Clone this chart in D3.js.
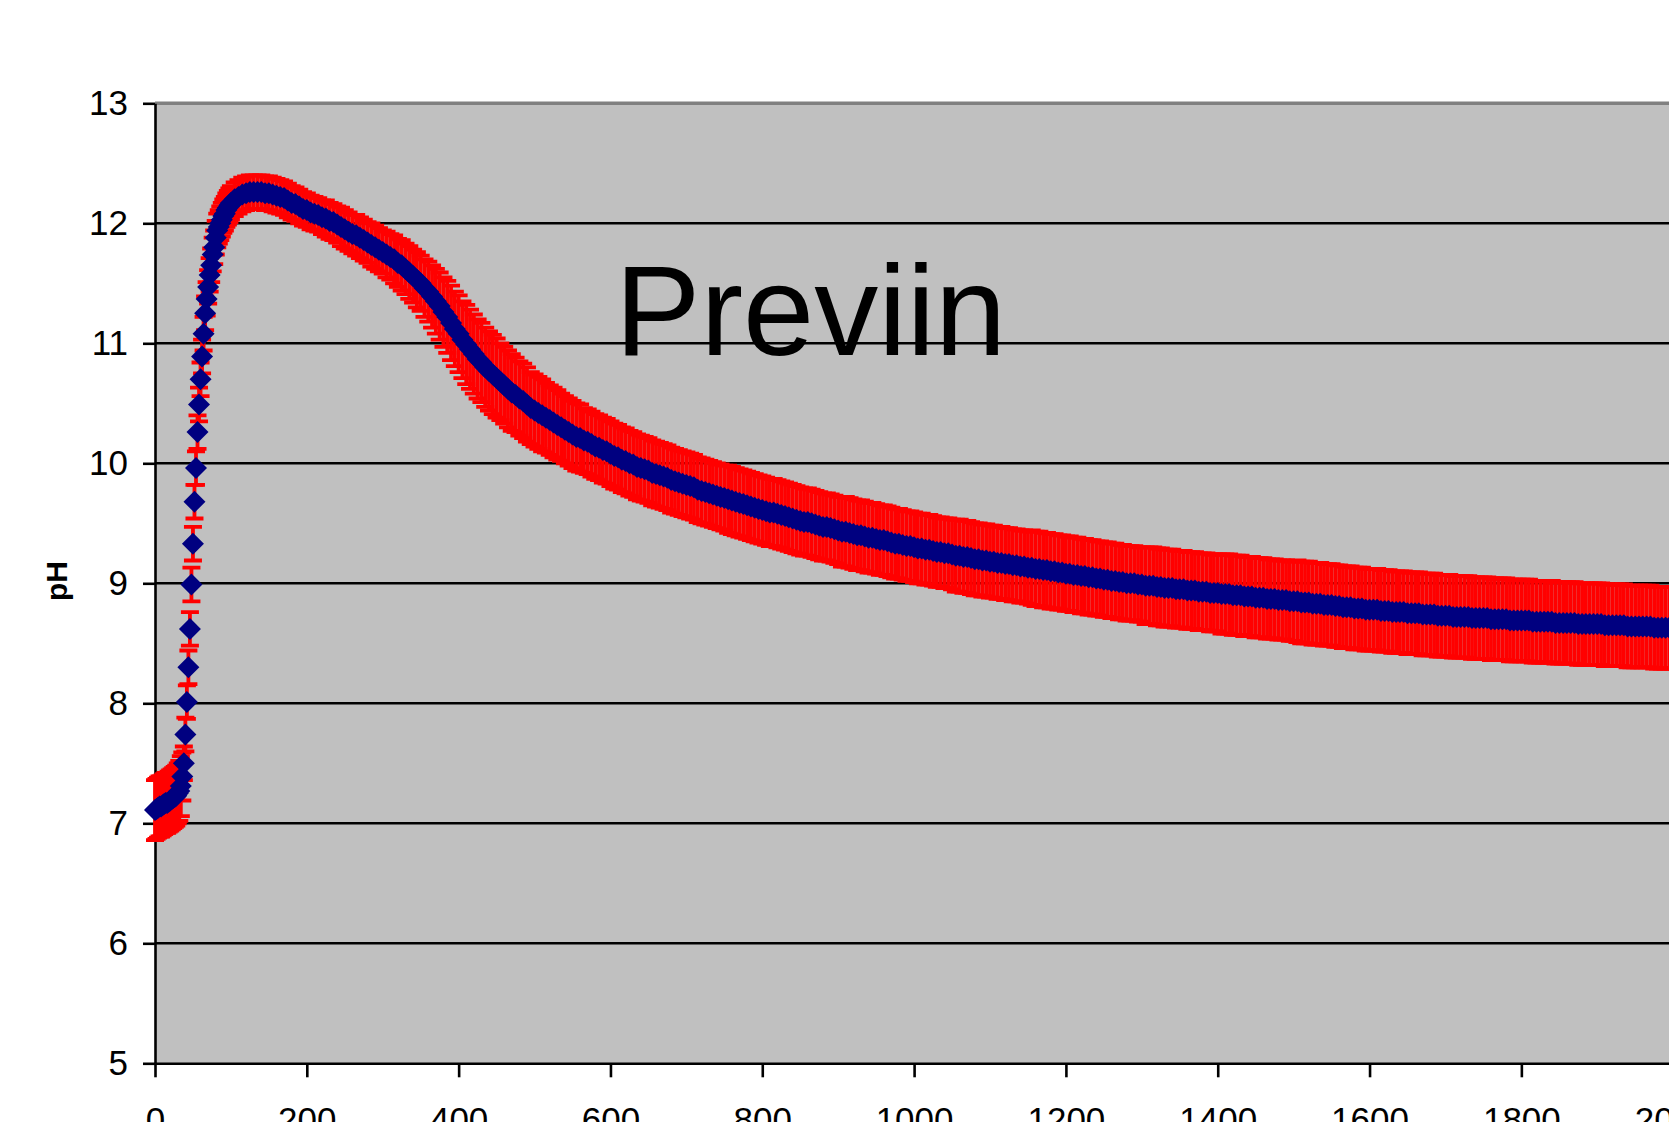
<!DOCTYPE html>
<html>
<head>
<meta charset="utf-8">
<script src="https://cdn.jsdelivr.net/npm/d3@7"></script>
<style>
  html, body { margin: 0; padding: 0; background: #fff; overflow: hidden; }
  svg { display: block; font-family: "Liberation Sans", Arial, sans-serif; }
</style>
</head>
<body>
<svg id="chart" width="1669" height="1122"></svg>
<script>
// Labels and ticks
const chartTitle = "Previin";
const yAxisLabel = "pH";
const xTickValues = [0, 200, 400, 600, 800, 1000, 1200, 1400, 1600, 1800, 2000, 2200];
const yTickValues = [5, 6, 7, 8, 9, 10, 11, 12, 13];

// Sample times (s)
const sampleTimes = [
  0, 2, 4, 6, 8, 10, 12, 14, 16, 18, 20, 22, 24, 26, 28, 30, 32, 34, 36, 38,
  40, 42, 44, 46, 48, 50, 52, 54, 56, 58, 60, 62, 64, 66, 68, 70, 72, 74, 76, 78,
  80, 82, 84, 86, 88, 90, 92, 94, 96, 98, 100,
  105, 110, 115, 120, 125, 130, 135, 140, 145, 150, 155, 160, 165, 170, 175, 180, 185, 190, 195, 200,
  205, 210, 215, 220, 225, 230, 235, 240, 245, 250, 255, 260, 265, 270, 275, 280, 285, 290, 295, 300,
  305, 310, 315, 320, 325, 330, 335, 340, 345, 350, 355, 360, 365, 370, 375, 380, 385, 390, 395, 400,
  405, 410, 415, 420, 425, 430, 435, 440, 445, 450, 455, 460, 465, 470, 475, 480, 485, 490, 495, 500,
  505, 510, 515, 520, 525, 530, 535, 540, 545, 550, 555, 560, 565, 570, 575, 580, 585, 590, 595, 600,
  605, 610, 615, 620, 625, 630, 635, 640, 645, 650, 655, 660, 665, 670, 675, 680, 685, 690, 695, 700,
  705, 710, 715, 720, 725, 730, 735, 740, 745, 750, 755, 760, 765, 770, 775, 780, 785, 790, 795, 800,
  805, 810, 815, 820, 825, 830, 835, 840, 845, 850, 855, 860, 865, 870, 875, 880, 885, 890, 895, 900,
  905, 910, 915, 920, 925, 930, 935, 940, 945, 950, 955, 960, 965, 970, 975, 980, 985, 990, 995, 1000,
  1005, 1010, 1015, 1020, 1025, 1030, 1035, 1040, 1045, 1050, 1055, 1060, 1065, 1070, 1075, 1080, 1085, 1090, 1095, 1100,
  1105, 1110, 1115, 1120, 1125, 1130, 1135, 1140, 1145, 1150, 1155, 1160, 1165, 1170, 1175, 1180, 1185, 1190, 1195, 1200,
  1205, 1210, 1215, 1220, 1225, 1230, 1235, 1240, 1245, 1250, 1255, 1260, 1265, 1270, 1275, 1280, 1285, 1290, 1295, 1300,
  1305, 1310, 1315, 1320, 1325, 1330, 1335, 1340, 1345, 1350, 1355, 1360, 1365, 1370, 1375, 1380, 1385, 1390, 1395, 1400,
  1405, 1410, 1415, 1420, 1425, 1430, 1435, 1440, 1445, 1450, 1455, 1460, 1465, 1470, 1475, 1480, 1485, 1490, 1495, 1500,
  1505, 1510, 1515, 1520, 1525, 1530, 1535, 1540, 1545, 1550, 1555, 1560, 1565, 1570, 1575, 1580, 1585, 1590, 1595, 1600,
  1605, 1610, 1615, 1620, 1625, 1630, 1635, 1640, 1645, 1650, 1655, 1660, 1665, 1670, 1675, 1680, 1685, 1690, 1695, 1700,
  1705, 1710, 1715, 1720, 1725, 1730, 1735, 1740, 1745, 1750, 1755, 1760, 1765, 1770, 1775, 1780, 1785, 1790, 1795, 1800,
  1805, 1810, 1815, 1820, 1825, 1830, 1835, 1840, 1845, 1850, 1855, 1860, 1865, 1870, 1875, 1880, 1885, 1890, 1895, 1900,
  1905, 1910, 1915, 1920, 1925, 1930, 1935, 1940, 1945, 1950, 1955, 1960, 1965, 1970, 1975, 1980, 1985, 1990, 1995, 2000,
  2005, 2010
];

// Mean pH at each sample
const phMean = [
  7.11, 7.12, 7.13, 7.14, 7.14, 7.15, 7.16, 7.17, 7.17, 7.18, 7.19, 7.20, 7.21, 7.22, 7.23, 7.25, 7.27, 7.31, 7.39, 7.50,
  7.74, 8.01, 8.30, 8.62, 8.99, 9.33, 9.68, 9.96, 10.26, 10.49, 10.70, 10.89, 11.08, 11.25, 11.37, 11.47, 11.57, 11.65, 11.74, 11.80,
  11.88, 11.94, 11.97, 12.00, 12.03, 12.06, 12.08, 12.11, 12.13, 12.15, 12.17,
  12.20, 12.22, 12.24, 12.25, 12.26, 12.26, 12.26, 12.26, 12.25, 12.25, 12.24, 12.23, 12.22, 12.21, 12.19, 12.17, 12.16, 12.14, 12.12, 12.11,
  12.09, 12.08, 12.07, 12.05, 12.04, 12.02, 12.01, 11.99, 11.97, 11.95, 11.93, 11.91, 11.90, 11.88, 11.86, 11.84, 11.82, 11.80, 11.78, 11.76,
  11.74, 11.72, 11.70, 11.67, 11.65, 11.62, 11.59, 11.56, 11.53, 11.50, 11.46, 11.43, 11.39, 11.35, 11.31, 11.26, 11.22, 11.17, 11.12, 11.08,
  11.03, 10.99, 10.95, 10.91, 10.87, 10.84, 10.80, 10.77, 10.74, 10.71, 10.68, 10.65, 10.62, 10.59, 10.57, 10.54, 10.52, 10.49, 10.46, 10.44,
  10.42, 10.40, 10.38, 10.36, 10.34, 10.32, 10.30, 10.28, 10.26, 10.24, 10.22, 10.21, 10.19, 10.18, 10.16, 10.14, 10.13, 10.11, 10.10, 10.08,
  10.06, 10.05, 10.03, 10.02, 10.00, 9.99, 9.97, 9.96, 9.95, 9.94, 9.92, 9.91, 9.90, 9.89, 9.88, 9.86, 9.85, 9.84, 9.83, 9.82,
  9.81, 9.80, 9.78, 9.77, 9.76, 9.75, 9.74, 9.73, 9.72, 9.71, 9.70, 9.69, 9.68, 9.67, 9.66, 9.65, 9.64, 9.63, 9.62, 9.61,
  9.60, 9.59, 9.59, 9.58, 9.57, 9.56, 9.55, 9.54, 9.53, 9.52, 9.51, 9.51, 9.50, 9.49, 9.48, 9.47, 9.47, 9.46, 9.45, 9.44,
  9.43, 9.43, 9.42, 9.41, 9.40, 9.40, 9.39, 9.38, 9.38, 9.37, 9.36, 9.36, 9.35, 9.34, 9.33, 9.33, 9.32, 9.31, 9.31, 9.30,
  9.29, 9.29, 9.28, 9.28, 9.27, 9.26, 9.26, 9.25, 9.25, 9.24, 9.23, 9.23, 9.22, 9.22, 9.21, 9.20, 9.20, 9.19, 9.19, 9.18,
  9.18, 9.17, 9.17, 9.16, 9.16, 9.15, 9.15, 9.14, 9.14, 9.13, 9.13, 9.12, 9.12, 9.11, 9.11, 9.10, 9.10, 9.09, 9.09, 9.08,
  9.08, 9.07, 9.07, 9.06, 9.06, 9.05, 9.05, 9.04, 9.04, 9.03, 9.03, 9.02, 9.02, 9.01, 9.01, 9.00, 9.00, 9.00, 8.99, 8.99,
  8.98, 8.98, 8.98, 8.97, 8.97, 8.96, 8.96, 8.96, 8.95, 8.95, 8.95, 8.94, 8.94, 8.94, 8.93, 8.93, 8.93, 8.92, 8.92, 8.92,
  8.91, 8.91, 8.91, 8.90, 8.90, 8.90, 8.89, 8.89, 8.89, 8.88, 8.88, 8.88, 8.87, 8.87, 8.87, 8.86, 8.86, 8.86, 8.85, 8.85,
  8.85, 8.84, 8.84, 8.84, 8.83, 8.83, 8.83, 8.82, 8.82, 8.82, 8.81, 8.81, 8.80, 8.80, 8.80, 8.79, 8.79, 8.79, 8.78, 8.78,
  8.78, 8.78, 8.77, 8.77, 8.77, 8.76, 8.76, 8.76, 8.76, 8.75, 8.75, 8.75, 8.75, 8.74, 8.74, 8.74, 8.74, 8.73, 8.73, 8.73,
  8.73, 8.72, 8.72, 8.72, 8.72, 8.72, 8.71, 8.71, 8.71, 8.71, 8.71, 8.70, 8.70, 8.70, 8.70, 8.70, 8.69, 8.69, 8.69, 8.69,
  8.69, 8.69, 8.68, 8.68, 8.68, 8.68, 8.68, 8.68, 8.67, 8.67, 8.67, 8.67, 8.67, 8.67, 8.66, 8.66, 8.66, 8.66, 8.66, 8.66,
  8.66, 8.65, 8.65, 8.65, 8.65, 8.65, 8.65, 8.64, 8.64, 8.64, 8.64, 8.64, 8.64, 8.64, 8.63, 8.63, 8.63, 8.63, 8.63, 8.63,
  8.63, 8.62
];

// Error (+/- pH) at each sample
const phError = [
  0.25, 0.25, 0.25, 0.25, 0.25, 0.25, 0.25, 0.25, 0.25, 0.25, 0.25, 0.25, 0.25, 0.25, 0.25, 0.25, 0.25, 0.25, 0.20, 0.14,
  0.14, 0.14, 0.14, 0.14, 0.14, 0.14, 0.14, 0.14, 0.14, 0.14, 0.14, 0.14, 0.14, 0.14, 0.14, 0.14, 0.14, 0.14, 0.14, 0.14,
  0.14, 0.14, 0.14, 0.14, 0.14, 0.14, 0.14, 0.14, 0.14, 0.14, 0.14,
  0.14, 0.14, 0.14, 0.14, 0.14, 0.14, 0.14, 0.14, 0.14, 0.14, 0.14, 0.14, 0.14, 0.14, 0.14, 0.14, 0.14, 0.14, 0.14, 0.14,
  0.14, 0.14, 0.14, 0.14, 0.15, 0.15, 0.15, 0.15, 0.16, 0.16, 0.16, 0.16, 0.17, 0.17, 0.17, 0.17, 0.18, 0.18, 0.18, 0.18,
  0.19, 0.19, 0.20, 0.20, 0.21, 0.21, 0.22, 0.22, 0.23, 0.23, 0.24, 0.25, 0.26, 0.27, 0.28, 0.29, 0.30, 0.31, 0.31, 0.32,
  0.32, 0.33, 0.33, 0.33, 0.33, 0.33, 0.33, 0.33, 0.33, 0.33, 0.32, 0.32, 0.32, 0.32, 0.31, 0.31, 0.31, 0.31, 0.30, 0.30,
  0.30, 0.30, 0.29, 0.29, 0.29, 0.29, 0.28, 0.28, 0.28, 0.28, 0.28, 0.28, 0.27, 0.27, 0.27, 0.27, 0.27, 0.27, 0.27, 0.27,
  0.27, 0.27, 0.27, 0.27, 0.27, 0.27, 0.27, 0.27, 0.27, 0.27, 0.27, 0.27, 0.27, 0.27, 0.27, 0.27, 0.27, 0.27, 0.27, 0.27,
  0.27, 0.27, 0.27, 0.27, 0.27, 0.27, 0.27, 0.27, 0.27, 0.27, 0.28, 0.28, 0.28, 0.28, 0.28, 0.28, 0.28, 0.28, 0.28, 0.28,
  0.28, 0.28, 0.28, 0.28, 0.28, 0.28, 0.28, 0.28, 0.28, 0.28, 0.28, 0.28, 0.28, 0.28, 0.28, 0.28, 0.28, 0.28, 0.28, 0.28,
  0.29, 0.29, 0.29, 0.29, 0.29, 0.29, 0.29, 0.29, 0.29, 0.29, 0.29, 0.29, 0.29, 0.29, 0.29, 0.29, 0.29, 0.29, 0.29, 0.29,
  0.29, 0.29, 0.29, 0.29, 0.29, 0.29, 0.29, 0.29, 0.29, 0.29, 0.30, 0.30, 0.30, 0.30, 0.30, 0.30, 0.30, 0.30, 0.30, 0.30,
  0.30, 0.30, 0.30, 0.30, 0.30, 0.30, 0.30, 0.30, 0.30, 0.30, 0.31, 0.31, 0.31, 0.31, 0.31, 0.31, 0.31, 0.31, 0.31, 0.31,
  0.31, 0.31, 0.31, 0.31, 0.31, 0.31, 0.31, 0.31, 0.31, 0.31, 0.31, 0.31, 0.31, 0.31, 0.31, 0.31, 0.31, 0.31, 0.31, 0.31,
  0.32, 0.32, 0.32, 0.32, 0.32, 0.32, 0.32, 0.32, 0.32, 0.32, 0.32, 0.32, 0.32, 0.32, 0.32, 0.32, 0.32, 0.32, 0.32, 0.32,
  0.33, 0.33, 0.33, 0.33, 0.33, 0.33, 0.33, 0.33, 0.33, 0.33, 0.33, 0.33, 0.33, 0.33, 0.33, 0.33, 0.33, 0.33, 0.33, 0.33,
  0.34, 0.34, 0.34, 0.34, 0.34, 0.34, 0.34, 0.34, 0.34, 0.34, 0.34, 0.34, 0.34, 0.34, 0.34, 0.34, 0.34, 0.34, 0.34, 0.34,
  0.34, 0.34, 0.34, 0.34, 0.34, 0.34, 0.34, 0.34, 0.34, 0.34, 0.34, 0.34, 0.34, 0.34, 0.34, 0.34, 0.34, 0.34, 0.34, 0.34,
  0.34, 0.34, 0.34, 0.34, 0.34, 0.34, 0.34, 0.34, 0.34, 0.34, 0.34, 0.34, 0.34, 0.34, 0.34, 0.34, 0.34, 0.34, 0.34, 0.34,
  0.34, 0.34, 0.34, 0.34, 0.34, 0.34, 0.34, 0.34, 0.34, 0.34, 0.34, 0.34, 0.34, 0.34, 0.34, 0.34, 0.34, 0.34, 0.34, 0.34,
  0.34, 0.34, 0.34, 0.34, 0.34, 0.34, 0.34, 0.34, 0.34, 0.34, 0.34, 0.34, 0.34, 0.34, 0.34, 0.34, 0.34, 0.34, 0.34, 0.34,
  0.34, 0.34
];

// Build rows
const data = sampleTimes.map((t, i) => ({ t: t, ph: phMean[i], err: phError[i] }));

const svg = d3.select("#chart");

// Scales
const xScale = d3.scaleLinear().domain([0, 2200]).range([155, 1825]);
const yScale = d3.scaleLinear().domain([5, 13]).range([1063.3, 103.3]);

// Plot area
svg
  .append("rect")
  .attr("x", xScale(0))
  .attr("y", yScale(13))
  .attr("width", xScale(2200) - xScale(0))
  .attr("height", yScale(5) - yScale(13))
  .attr("fill", "#c0c0c0");

// Gridlines
svg
  .append("g")
  .selectAll("line")
  .data(yTickValues.filter((v) => v > 5))
  .join("line")
  .attr("x1", xScale(0))
  .attr("x2", xScale(2200))
  .attr("y1", (d) => yScale(d))
  .attr("y2", (d) => yScale(d))
  .attr("stroke", (d) => (d === 13 ? "#808080" : "#000"))
  .attr("stroke-width", (d) => (d === 13 ? 3.5 : 2.6));

// Axis
const yAxis = d3
  .axisLeft(yScale)
  .tickValues(yTickValues)
  .tickFormat(d3.format("d"))
  .tickSize(12)
  .tickSizeOuter(0)
  .tickPadding(15);
const yAxisG = svg.append("g").attr("transform", `translate(${xScale(0)}, 0)`).call(yAxis);

const xAxis = d3
  .axisBottom(xScale)
  .tickValues(xTickValues)
  .tickFormat(d3.format("d"))
  .tickSize(14)
  .tickSizeOuter(0)
  .tickPadding(30);
const xAxisG = svg.append("g").attr("transform", `translate(0, ${yScale(5)})`).call(xAxis);

//Styling Axis
svg.selectAll(".domain").attr("stroke", "#000").attr("stroke-width", 2.6);
svg.selectAll(".tick line").attr("stroke", "#000").attr("stroke-width", 2.6);
svg
  .selectAll(".tick text")
  .style("font-family", '"Liberation Sans", Arial, sans-serif')
  .style("font-size", "35px")
  .attr("fill", "#000");
yAxisG.attr("font-family", null);
xAxisG.attr("font-family", null);

// Error bars
const capHalf = 9;
svg
  .append("g")
  .selectAll("path")
  .data(data)
  .join("path")
  .attr("fill", "none")
  .attr("stroke", "#ff0000")
  .attr("stroke-width", 3.8)
  .attr("d", (d) => {
    const x = xScale(d.t);
    const yHi = yScale(d.ph + d.err);
    const yLo = yScale(d.ph - d.err);
    return `M${x},${yHi}V${yLo}M${x - capHalf},${yHi}H${x + capHalf}M${x - capHalf},${yLo}H${x + capHalf}`;
  });

// Diamond markers
const diamond = d3.symbol().type(d3.symbolSquare).size(242);
svg
  .append("g")
  .selectAll("path")
  .data(data)
  .join("path")
  .attr("d", diamond)
  .attr("fill", "#000080")
  .attr("transform", (d) => `translate(${xScale(d.t)}, ${yScale(d.ph)}) rotate(45)`);

// Title
svg
  .append("text")
  .attr("x", 615)
  .attr("y", 355)
  .style("font-size", "128px")
  .attr("fill", "#000")
  .text(chartTitle);

// Y label
svg
  .append("text")
  .attr("transform", "translate(67, 581) rotate(-90)")
  .attr("text-anchor", "middle")
  .style("font-size", "30px")
  .style("font-weight", "bold")
  .attr("fill", "#000")
  .text(yAxisLabel);
</script>
</body>
</html>
